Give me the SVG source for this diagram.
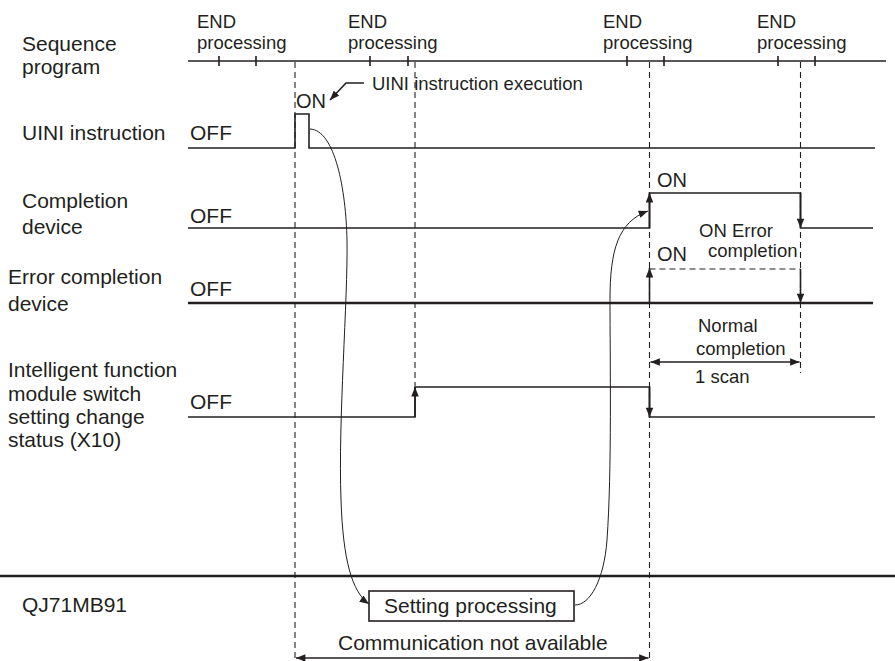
<svg xmlns="http://www.w3.org/2000/svg" width="895" height="661" viewBox="0 0 895 661">
<defs>
<marker id="ah" viewBox="0 0 10 8" refX="10" refY="4" markerWidth="10" markerHeight="7.5" markerUnits="userSpaceOnUse" orient="auto"><path d="M0,0 L10,4 L0,8 z" fill="#231f20"/></marker>
<marker id="ahs" viewBox="0 0 10 8" refX="10" refY="4" markerWidth="10" markerHeight="7.5" markerUnits="userSpaceOnUse" orient="auto-start-reverse"><path d="M0,0 L10,4 L0,8 z" fill="#231f20"/></marker>
</defs>
<style>
text{font-family:"Liberation Sans",Arial,sans-serif;fill:#231f20}
.lbl{font-size:21px}
.sm{font-size:18.5px}
.on{font-size:20px}
.sig{fill:none;stroke:#231f20;stroke-width:1.6}
.thick{fill:none;stroke:#231f20;stroke-width:2.6}
.dash{fill:none;stroke:#231f20;stroke-width:1.1;stroke-dasharray:6 4}
.curve{fill:none;stroke:#231f20;stroke-width:1}
.arr{fill:none;stroke:#231f20;stroke-width:1.6;marker-end:url(#ah)}
</style>
<rect width="895" height="661" fill="#fff"/>

<g id="sequence-program">
<text class="lbl" x="22" y="51">Sequence</text>
<text class="lbl" x="22" y="74">program</text>
<line class="sig" x1="188" y1="61" x2="886" y2="61" stroke-width="2.2"/>
<path class="sig" d="M219,56V66M256,56V66M370,56V66M408,56V66M627,56V66M664,56V66M778,56V66M815,56V66"/>
<text class="sm" x="197" y="28">END</text>
<text class="sm" x="197" y="49">processing</text>
<text class="sm" x="348" y="28">END</text>
<text class="sm" x="348" y="49">processing</text>
<text class="sm" x="603" y="28">END</text>
<text class="sm" x="603" y="49">processing</text>
<text class="sm" x="757" y="28">END</text>
<text class="sm" x="757" y="49">processing</text>
</g>

<g id="timing-guides">
<line class="dash" x1="295" y1="62" x2="295" y2="661"/>
<line class="dash" x1="415" y1="62" x2="415" y2="386"/>
<line class="dash" x1="649.5" y1="62" x2="649.5" y2="661"/>
<line class="dash" x1="800.5" y1="62" x2="800.5" y2="373"/>
</g>

<g id="uini-instruction">
<text class="lbl" x="22" y="140">UINI instruction</text>
<text class="lbl" x="190" y="140">OFF</text>
<polyline class="sig" points="188,148 295,148 295,114 309,114 309,148 875,148"/>
<text class="on" x="296" y="108">ON</text>
<text class="sm" x="372" y="90">UINI instruction execution</text>
</g>

<g id="completion-device">
<text class="lbl" x="22" y="208">Completion</text>
<text class="lbl" x="22" y="234">device</text>
<text class="lbl" x="190" y="223">OFF</text>
<polyline class="sig" points="188,228 649.5,228 649.5,193 800.5,193 800.5,228 873,228"/>
<text class="on" x="657" y="187">ON</text>
</g>

<g id="error-completion-device">
<text class="lbl" x="8" y="284">Error completion</text>
<text class="lbl" x="8" y="311">device</text>
<text class="lbl" x="190" y="296">OFF</text>
<line class="thick" x1="188" y1="303" x2="873" y2="303"/>
<line class="dash" x1="649.5" y1="269" x2="800.5" y2="269"/>
<text class="on" x="657" y="261">ON</text>
<text class="sm" x="699" y="237">ON Error</text>
<text class="sm" x="708" y="257">completion</text>
</g>

<g id="switch-setting-status">
<text class="lbl" x="8" y="377">Intelligent function</text>
<text class="lbl" x="8" y="401">module switch</text>
<text class="lbl" x="8" y="424">setting change</text>
<text class="lbl" x="8" y="447">status (X10)</text>
<text class="lbl" x="190" y="409">OFF</text>
<polyline class="sig" points="188,417 415,417 415,387 649.5,387 649.5,417 875,417"/>
<text class="sm" x="698" y="332">Normal</text>
<text class="sm" x="696" y="355">completion</text>
<text class="sm" x="695" y="383">1 scan</text>
</g>

<g id="qj71mb91">
<line class="thick" x1="0" y1="576" x2="895" y2="576"/>
<text class="lbl" x="22" y="612">QJ71MB91</text>
<rect x="369" y="591" width="205" height="30" fill="#fff" stroke="#231f20" stroke-width="1.6"/>
<text class="lbl" x="384" y="613">Setting processing</text>
<text class="lbl" x="338" y="650">Communication not available</text>
</g>

<g id="connectors">
<path class="arr" d="M649.5,228V193"/>
<path class="arr" d="M800.5,193V228"/>
<path class="arr" d="M649.5,303V268"/>
<path class="arr" d="M800.5,269V303"/>
<path class="arr" d="M415,417V387"/>
<path class="arr" d="M649.5,387V417"/>
<polyline class="arr" points="364,83 346,83 330,100"/>
<line class="sig" x1="296" y1="658" x2="648.5" y2="658" marker-start="url(#ahs)" marker-end="url(#ahs)"/>
<line class="sig" x1="650.5" y1="362" x2="799.5" y2="362" marker-start="url(#ahs)" marker-end="url(#ahs)"/>
<path class="curve" marker-end="url(#ah)" d="M310,129 C335,130 346,190 347,240 C348,300 338,420 341,500 C343,560 352,592 369,604"/>
<path class="curve" marker-end="url(#ah)" d="M575,605 C590,605 604,580 607,540 C612,470 610,360 610,300 C610,250 618,222 648,211"/>
</g>
</svg>
